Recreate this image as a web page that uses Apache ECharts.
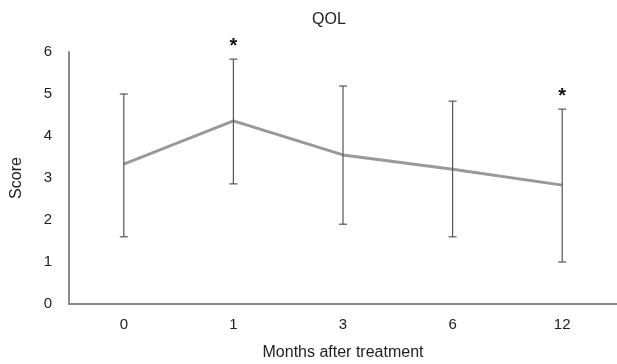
<!DOCTYPE html>
<html><head><meta charset="utf-8">
<script src="https://cdn.jsdelivr.net/npm/echarts@6/dist/echarts.min.js"></script>
<style>html,body{margin:0;padding:0;background:#fff}#c{width:617px;height:364px}</style>
</head><body><div id="c"></div>
<script>
var categories = ['0', '1', '3', '6', '12'];
var means = [3.33, 4.36, 3.55, 3.21, 2.83];
var upper = [5.0, 5.83, 5.19, 4.83, 4.64];
var lower = [1.6, 2.86, 1.9, 1.6, 1.0];
var significant = ['', '*', '', '', '*'];
var yTicks = [0, 1, 2, 3, 4, 5, 6];

var errData = categories.map(function (c, i) { return [i, lower[i], upper[i], significant[i]]; });
var font = '"Liberation Sans", Arial, sans-serif';
var chart = echarts.init(document.getElementById('c'));
chart.setOption({
  animation: false,
  title: { text: 'QOL', left: 307, top: 7, textStyle: { fontFamily: font, fontSize: 16, fontWeight: 'normal', color: '#222' } },
  grid: { left: 69, right: 0, top: 52, bottom: 60, containLabel: false, outerBoundsMode: 'none' },
  xAxis: {
    type: 'category', data: categories,
    name: 'Months after treatment', nameLocation: 'middle', nameGap: 41,
    nameTextStyle: { fontFamily: font, fontSize: 16, color: '#222' },
    axisLine: { lineStyle: { color: '#8a8a8a', width: 2 } },
    axisTick: { show: false },
    axisLabel: { fontFamily: font, fontSize: 15, color: '#222', margin: 13 }
  },
  yAxis: {
    type: 'value', min: yTicks[0], max: yTicks[yTicks.length - 1], interval: 1,
    name: 'Score', nameLocation: 'middle', nameGap: 44, nameRotate: 90,
    nameTextStyle: { fontFamily: font, fontSize: 16, color: '#222' },
    axisLine: { show: true, lineStyle: { color: '#8a8a8a', width: 2 } },
    axisTick: { show: false },
    splitLine: { show: false },
    axisLabel: { fontFamily: font, fontSize: 15, color: '#222', margin: 17 }
  },
  series: [
    {
      type: 'line', data: means, symbol: 'none',
      lineStyle: { color: '#999999', width: 3 }, z: 2
    },
    {
      type: 'custom', data: errData, z: 3,
      renderItem: function (params, api) {
        var x = api.value(0);
        var lo = api.coord([x, api.value(1)]);
        var hi = api.coord([x, api.value(2)]);
        var cw = 4;
        var style = { stroke: '#555', lineWidth: 1.2 };
        var children = [
          { type: 'line', shape: { x1: lo[0], y1: lo[1], x2: hi[0], y2: hi[1] }, style: style },
          { type: 'line', shape: { x1: lo[0] - cw, y1: lo[1], x2: lo[0] + cw, y2: lo[1] }, style: style },
          { type: 'line', shape: { x1: hi[0] - cw, y1: hi[1], x2: hi[0] + cw, y2: hi[1] }, style: style }
        ];
        var s = errData[params.dataIndex][3];
        if (s) {
          children.push({ type: 'text', style: { text: s, x: hi[0], y: hi[1] - 3, align: 'center', verticalAlign: 'bottom', fontFamily: font, fontSize: 20, fontWeight: 'bold', fill: '#111' } });
        }
        return { type: 'group', children: children };
      }
    }
  ]
});
</script></body></html>
